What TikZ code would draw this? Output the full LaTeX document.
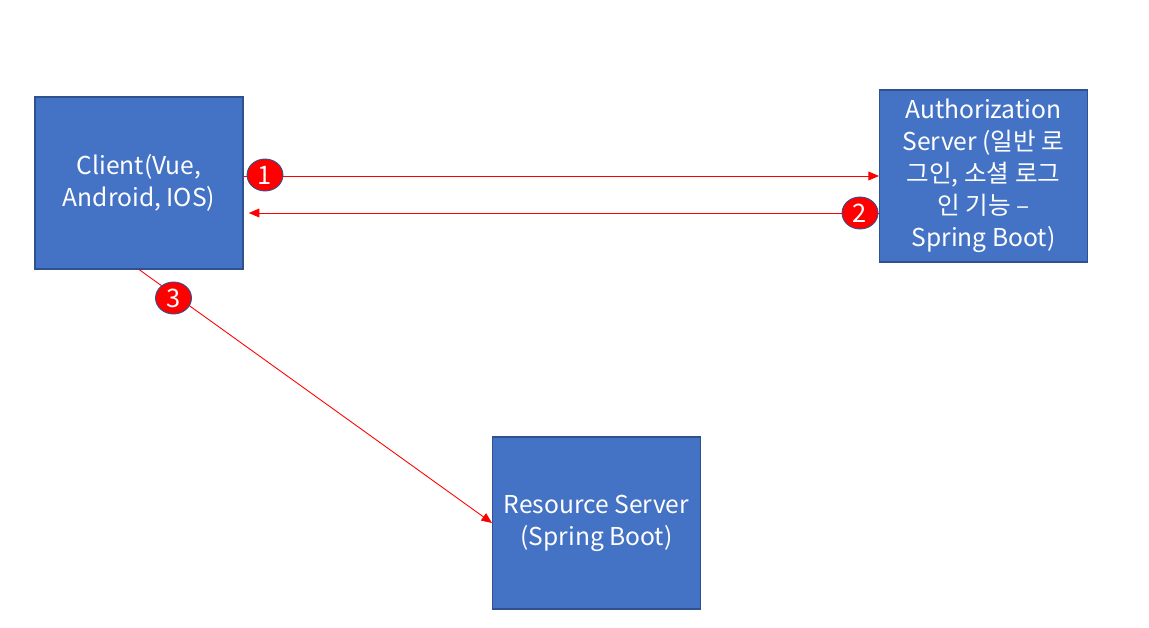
\documentclass[tikz,border=0pt]{standalone}
\usepackage{fontspec}
\setmainfont{Noto Sans CJK KR}
\usetikzlibrary{arrows.meta,shapes.geometric}
\definecolor{boxblue}{HTML}{4472C4}
\definecolor{boxedge}{HTML}{2F528F}
\tikzset{
    >={Triangle[length=6pt,width=5pt]}, % small filled tip, as in the slide
    server/.style={draw=boxedge, fill=boxblue, line width=0.6pt,
        minimum width=4.16cm, minimum height=3.44cm, inner sep=0pt,
        text=white, align=center, font=\fontsize{14}{18.2}\selectfont},
    msg/.style={draw=red, line width=0.5pt, ->},
    stepmark/.style={ellipse, draw=boxedge, fill=red, line width=0.5pt,
        minimum width=0.72cm, minimum height=0.64cm, inner sep=0pt,
        text=white, font=\fontsize{14.5}{16}\selectfont}
}
\begin{document}
\begin{tikzpicture}[x=0.02cm, y=-0.02cm]
  \useasboundingbox (0,0) rectangle (1149,628);

  % The three parties
  \node[server] (client) at (139,183) {Client(Vue,\\Android, IOS)};
  \node[server] (auth) at (983.5,176) {Authorization\\Server (일반 로\\그인, 소셜 로그\\인 기능 –\\Spring Boot)};
  \node[server] (resource) at (596.5,523) {Resource Server\\(Spring Boot)};

  % Levels of the two horizontal messages
  \coordinate (lvlA) at (265,176);
  \coordinate (lvlB) at (860,213);

  % Messages
  \draw[msg] (client.east |- lvlA) -- (auth.west |- lvlA);
  \draw[msg, shorten >=3pt] (auth.west |- lvlB) -- (client.east |- lvlB);
  \draw[msg] (client.south) -- (resource.west);

  % Step numbers
  \node[stepmark] (one) at (265,175) {1};
  \node[stepmark] (two) at (860,213) {2};
  \node[stepmark] (three) at (173.5,298) {3};

\end{tikzpicture}
\end{document}
